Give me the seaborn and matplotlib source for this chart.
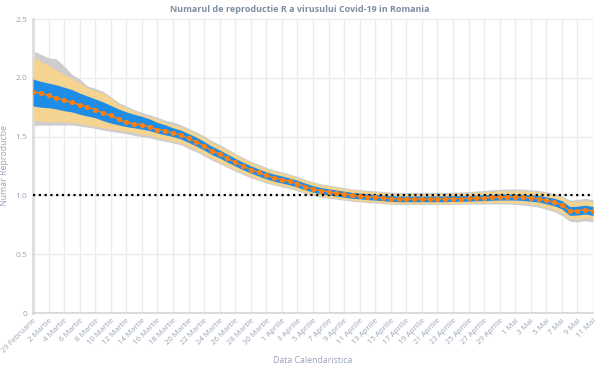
import matplotlib
matplotlib.use("Agg")
import matplotlib.pyplot as plt
import seaborn as sns
import pandas as pd
import numpy as np

# daily estimates, 29 Februarie .. 11 Mai (73 days)
r_median = [1.88, 1.87, 1.85, 1.83, 1.81, 1.79, 1.77, 1.75, 1.73, 1.70,
            1.68, 1.65, 1.62, 1.61, 1.60, 1.58, 1.56, 1.55, 1.53, 1.515,
            1.485, 1.455, 1.42, 1.38, 1.35, 1.315, 1.28, 1.25, 1.22, 1.195,
            1.17, 1.15, 1.135, 1.12, 1.10, 1.075, 1.055, 1.04, 1.03, 1.02,
            1.01, 1.0, 0.995, 0.988, 0.984, 0.978, 0.973, 0.97, 0.97, 0.97,
            0.97, 0.97, 0.97, 0.97, 0.973, 0.973, 0.975, 0.978, 0.98, 0.984,
            0.986, 0.987, 0.986, 0.984, 0.978, 0.973, 0.958, 0.944, 0.92, 0.867,
            0.87, 0.879, 0.867]

ci50_low = [1.76, 1.75, 1.745, 1.735, 1.72, 1.71, 1.69, 1.675, 1.66, 1.635,
            1.615, 1.60, 1.585, 1.575, 1.564, 1.55, 1.53, 1.515, 1.50, 1.48,
            1.45, 1.42, 1.385, 1.347, 1.317, 1.283, 1.25, 1.218, 1.19, 1.165,
            1.14, 1.12, 1.105, 1.09, 1.07, 1.047, 1.028, 1.014, 1.004, 0.995,
            0.985, 0.976, 0.971, 0.964, 0.96, 0.954, 0.949, 0.946, 0.946, 0.946,
            0.946, 0.946, 0.946, 0.946, 0.95, 0.95, 0.951, 0.954, 0.955, 0.959,
            0.96, 0.961, 0.96, 0.957, 0.95, 0.944, 0.928, 0.912, 0.885, 0.83,
            0.833, 0.842, 0.83]
ci50_high = [1.99, 1.97, 1.955, 1.94, 1.92, 1.90, 1.87, 1.845, 1.82, 1.795,
             1.765, 1.735, 1.71, 1.69, 1.672, 1.65, 1.62, 1.60, 1.575, 1.555,
             1.525, 1.495, 1.458, 1.418, 1.386, 1.35, 1.315, 1.282, 1.252, 1.226,
             1.20, 1.18, 1.165, 1.148, 1.128, 1.104, 1.083, 1.067, 1.056, 1.046,
             1.036, 1.026, 1.02, 1.013, 1.009, 1.003, 0.998, 0.995, 0.995, 0.995,
             0.995, 0.995, 0.995, 0.995, 0.998, 0.998, 1.0, 1.003, 1.006, 1.01,
             1.012, 1.013, 1.012, 1.01, 1.005, 1.0, 0.988, 0.976, 0.955, 0.905,
             0.908, 0.917, 0.905]

ci90_low = [1.635, 1.63, 1.628, 1.626, 1.623, 1.62, 1.61, 1.597, 1.585, 1.575,
            1.565, 1.555, 1.545, 1.535, 1.52, 1.51, 1.49, 1.475, 1.46, 1.445,
            1.415, 1.385, 1.35, 1.312, 1.283, 1.25, 1.217, 1.19, 1.162, 1.138,
            1.115, 1.096, 1.082, 1.067, 1.048, 1.025, 1.007, 0.993, 0.984, 0.976,
            0.967, 0.958, 0.953, 0.947, 0.943, 0.938, 0.933, 0.93, 0.93, 0.93,
            0.93, 0.93, 0.93, 0.93, 0.932, 0.932, 0.933, 0.935, 0.936, 0.938,
            0.939, 0.939, 0.937, 0.933, 0.925, 0.917, 0.898, 0.88, 0.85, 0.80,
            0.80, 0.81, 0.80]
ci90_high = [2.17, 2.14, 2.11, 2.065, 2.03, 1.995, 1.96, 1.915, 1.89, 1.87,
             1.83, 1.775, 1.745, 1.72, 1.69, 1.67, 1.65, 1.62, 1.60, 1.585,
             1.555, 1.525, 1.49, 1.45, 1.418, 1.382, 1.345, 1.31, 1.28, 1.254,
             1.228, 1.206, 1.19, 1.173, 1.152, 1.127, 1.106, 1.09, 1.078, 1.068,
             1.057, 1.047, 1.041, 1.034, 1.03, 1.024, 1.019, 1.016, 1.016, 1.016,
             1.016, 1.016, 1.016, 1.016, 1.019, 1.02, 1.023, 1.027, 1.031, 1.036,
             1.039, 1.041, 1.041, 1.04, 1.036, 1.031, 1.018, 1.005, 0.985, 0.945,
             0.945, 0.955, 0.945]

ci95_low = [1.595, 1.597, 1.598, 1.598, 1.598, 1.598, 1.59, 1.58, 1.57, 1.555,
            1.545, 1.535, 1.525, 1.51, 1.50, 1.49, 1.473, 1.46, 1.445, 1.43,
            1.40, 1.37, 1.335, 1.298, 1.27, 1.237, 1.205, 1.178, 1.15, 1.127,
            1.105, 1.087, 1.073, 1.058, 1.039, 1.016, 0.998, 0.985, 0.976, 0.968,
            0.959, 0.95, 0.945, 0.939, 0.935, 0.93, 0.925, 0.922, 0.922, 0.922,
            0.922, 0.922, 0.922, 0.922, 0.924, 0.924, 0.925, 0.926, 0.926, 0.927,
            0.927, 0.926, 0.923, 0.918, 0.91, 0.90, 0.882, 0.862, 0.83, 0.78,
            0.775, 0.785, 0.775]
ci95_high = [2.23, 2.20, 2.17, 2.16, 2.10, 2.03, 1.99, 1.93, 1.91, 1.885,
             1.84, 1.79, 1.76, 1.73, 1.706, 1.685, 1.664, 1.64, 1.625, 1.60,
             1.57, 1.54, 1.505, 1.465, 1.432, 1.396, 1.358, 1.322, 1.292, 1.265,
             1.238, 1.216, 1.20, 1.182, 1.161, 1.136, 1.115, 1.099, 1.087, 1.077,
             1.066, 1.056, 1.05, 1.043, 1.039, 1.033, 1.028, 1.025, 1.025, 1.025,
             1.025, 1.025, 1.025, 1.025, 1.028, 1.029, 1.032, 1.037, 1.042, 1.048,
             1.052, 1.054, 1.054, 1.053, 1.048, 1.043, 1.03, 1.017, 0.997, 0.96,
             0.965, 0.975, 0.965]

tick_labels = ["29 Februarie", "2 Martie", "4 Martie", "6 Martie", "8 Martie",
               "10 Martie", "12 Martie", "14 Martie", "16 Martie", "18 Martie",
               "20 Martie", "22 Martie", "24 Martie", "26 Martie", "28 Martie",
               "30 Martie", "1 Aprilie", "3 Aprilie", "5 Aprilie", "7 Aprilie",
               "9 Aprilie", "11 Aprilie", "13 Aprilie", "15 Aprilie", "17 Aprilie",
               "19 Aprilie", "21 Aprilie", "23 Aprilie", "25 Aprilie", "27 Aprilie",
               "29 Aprilie", "1 Mai", "3 Mai", "5 Mai", "7 Mai", "9 Mai", "11 Mai"]

text_col = "#9aa5b5"
grid_col = "#ececec"

sns.set_theme(style="white")
plt.rcParams['font.family'] = ['Open Sans', 'DejaVu Sans']

df = pd.DataFrame({"zi": np.arange(len(r_median)), "R": r_median})

fig = plt.figure(figsize=(6.0, 3.69), dpi=100)
ax = fig.add_axes([33 / 600, 1 - 313 / 369, 560 / 600, 294 / 369])

ax.fill_between(df.zi, ci95_low, ci95_high, color="#cdcdcd", lw=0, zorder=2)
ax.fill_between(df.zi, ci90_low, ci90_high, color="#f5d391", lw=0, zorder=3)
ax.fill_between(df.zi, ci50_low, ci50_high, color="#1f8de6", lw=0, zorder=4)
ax.axhline(1.0, color="black", lw=1.6, ls=(0, (1, 1.6)), zorder=5)
sns.lineplot(data=df, x="zi", y="R", ax=ax, color="#ff7f0e", lw=1,
             marker="o", markersize=3.7, markeredgewidth=0, zorder=6)

ax.set_xlim(0, len(r_median) - 1)
ax.set_ylim(0, 2.5)
ax.set_xticks(np.arange(0, len(r_median), 2))
ax.set_xticklabels(tick_labels, rotation=45, ha="right", rotation_mode="anchor",
                   fontsize=5.6, color=text_col)
ax.set_yticks([0, 0.5, 1.0, 1.5, 2.0, 2.5])
ax.set_yticklabels(["0", "0.5", "1.0", "1.5", "2.0", "2.5"], fontsize=6, color=text_col)
ax.tick_params(axis="x", length=0, pad=3)
ax.tick_params(axis="y", length=0, pad=4)
ax.grid(True, color=grid_col, lw=1, zorder=0)
ax.set_axisbelow(True)
for side in ["top", "right"]:
    ax.spines[side].set_visible(False)
ax.spines["left"].set_color("#dddddd")
ax.spines["left"].set_linewidth(2)
ax.spines["bottom"].set_color("#d5d5d5")
ax.spines["bottom"].set_linewidth(1.2)

ax.set_xlabel("Data Calendaristica", fontsize=6.3, color=text_col)
ax.xaxis.set_label_coords((313 - 33) / 560, (313 - 356) / 294)
ax.set_ylabel("Numar Reproductie", fontsize=6.3, color=text_col)
ax.yaxis.set_label_coords((9 - 33) / 560, (313 - 165) / 294)
fig.text(0.5, 1 - 9 / 369, "Numarul de reproductie R a virusului Covid-19 in Romania",
         ha="center", va="center", fontsize=6.5, fontweight="bold", color="#7f8da3")

fig.savefig("out.png", dpi=100)
